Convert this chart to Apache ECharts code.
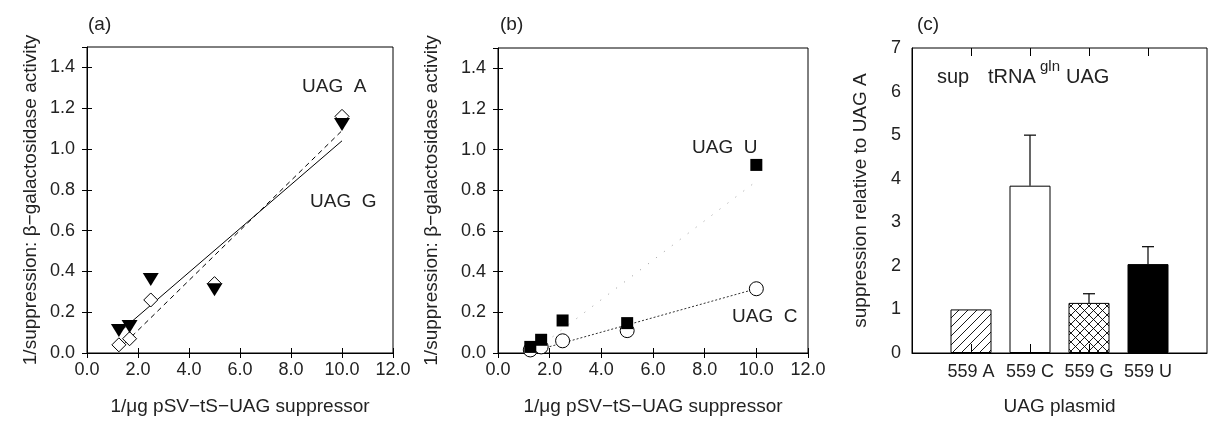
<!DOCTYPE html>
<html>
<head>
<meta charset="utf-8">
<script src="https://cdn.jsdelivr.net/npm/echarts@6/dist/echarts.min.js"></script>
<style>
  html, body { margin: 0; padding: 0; background: #fff; }
  #myEchart { width: 1210px; height: 421px; }
</style>
</head>
<body>
<div id="myEchart"></div>
<script>
// panel (a): 1/ug suppressor vs 1/suppression
var doseA = [1.25, 1.67, 2.5, 5.0, 10.0];
var uagA = [0.04, 0.07, 0.26, 0.34, 1.16];
var uagG = [0.11, 0.13, 0.36, 0.31, 1.12];
var fitA = [[1.5, 0.05], [10.0, 1.09]];
var fitG = [[1.25, 0.10], [10.0, 1.04]];

// panel (b)
var doseB = [1.25, 1.67, 2.5, 5.0, 10.0];
var uagU = [0.03, 0.065, 0.16, 0.147, 0.925];
var uagC = [0.015, 0.03, 0.06, 0.11, 0.316];
var fitU = [[1.5, 0.02], [9.85, 0.83]];
var fitC = [[1.4, 0.01], [10.0, 0.316]];

// panel (c): bars
var plasmids = ['', '559 A', '559 C', '559 G', '559 U', ''];
var relSupp = [null, 1.0, 3.84, 1.15, 2.04, null];
var relErr = [null, null, 5.0, 1.36, 2.44, null];

var FONT = 'Liberation Sans';
var INK = '#222';

function pairs(xs, ys) {
    var out = [];
    for (var i = 0; i < xs.length; i++) out.push([xs[i], ys[i]]);
    return out;
}

function hatch(size, cross) {
    var c = document.createElement('canvas');
    c.width = size;
    c.height = size;
    var g = c.getContext('2d');
    g.strokeStyle = '#000';
    g.lineWidth = 0.9;
    g.beginPath();
    g.moveTo(-1, size + 1); g.lineTo(size + 1, -1);
    if (cross) {
        g.moveTo(-1, -1); g.lineTo(size + 1, size + 1);
    }
    g.stroke();
    return { image: c, repeat: 'repeat' };
}

var fills = {
    '559 A': hatch(9, false),
    '559 C': 'rgba(0,0,0,0)',
    '559 G': hatch(9, true),
    '559 U': '#000'
};

var barData = [];
var errData = [];
for (var i = 0; i < plasmids.length; i++) {
    barData.push({
        value: relSupp[i],
        itemStyle: { color: fills[plasmids[i]] || 'rgba(0,0,0,0)', borderColor: '#000', borderWidth: 1 }
    });
    if (relErr[i] != null) errData.push([i, relSupp[i], relErr[i]]);
}

var tickLabel = { color: INK, fontFamily: FONT, fontSize: 18 };
var titleText = { color: INK, fontFamily: FONT, fontSize: 19 };
var fix1 = function(v) { return v.toFixed(1); };

function scatterAxes(xi, nameGapY) {
    return {
        x: [{
            gridIndex: xi, type: 'value', min: 0, max: 12, interval: 2,
            name: '1/\u03bcg pSV\u2212tS\u2212UAG suppressor', nameLocation: 'middle', nameGap: 44,
            nameTextStyle: titleText,
            axisLine: { show: true, lineStyle: { color: '#000', width: 1 } },
            axisTick: { inside: true, length: 5, lineStyle: { color: '#000' } },
            axisLabel: Object.assign({ margin: 8, formatter: fix1 }, tickLabel),
            splitLine: { show: false }
        }, {
            gridIndex: xi, type: 'value', position: 'top', min: 0, max: 12, interval: 2,
            axisLine: { show: false },
            axisTick: { inside: true, length: 5, lineStyle: { color: '#000' } },
            axisLabel: { show: false },
            splitLine: { show: false }
        }],
        y: [{
            gridIndex: xi, type: 'value', min: 0, max: 1.5, interval: 0.2,
            name: '1/suppression: \u03b2\u2212galactosidase activity', nameLocation: 'middle', nameGap: nameGapY,
            nameTextStyle: titleText,
            axisLine: { show: true, lineStyle: { color: '#000', width: 1 } },
            axisTick: { inside: true, length: 5, lineStyle: { color: '#000' } },
            axisLabel: Object.assign({ margin: 12, formatter: fix1, showMaxLabel: false }, tickLabel),
            splitLine: { show: false }
        }, {
            gridIndex: xi, type: 'value', position: 'right', min: 0, max: 1.5, interval: 0.2,
            axisLine: { show: false },
            axisTick: { inside: true, length: 5, lineStyle: { color: '#000' } },
            axisLabel: { show: false },
            splitLine: { show: false }
        }]
    };
}

var axA = scatterAxes(0, 47);
var axB = scatterAxes(1, 57);

var myChart = echarts.init(document.getElementById('myEchart'), null, { renderer: 'canvas' });

myChart.setOption({
    animation: false,
    backgroundColor: '#fff',
    grid: [
        { left: 87, top: 47, width: 306, height: 308, show: true, borderColor: '#000', borderWidth: 1 },
        { left: 498, top: 48, width: 310, height: 306, show: true, borderColor: '#000', borderWidth: 1 },
        { left: 912, top: 48, width: 308, height: 308, show: true, borderColor: '#000', borderWidth: 1 }
    ],
    xAxis: axA.x.concat(axB.x).concat([{
        gridIndex: 2, type: 'category', data: plasmids, boundaryGap: false, z: 5,
        name: 'UAG plasmid', nameLocation: 'middle', nameGap: 44, nameTextStyle: titleText,
        axisLine: { show: true, lineStyle: { color: '#000', width: 1 } },
        axisTick: { inside: true, length: 9, lineStyle: { color: '#000' },
            interval: function(i) { return i >= 1 && i <= 4; } },
        axisLabel: Object.assign({ margin: 10, interval: 0 }, tickLabel)
    }, {
        gridIndex: 2, type: 'category', data: plasmids, boundaryGap: false, position: 'top',
        axisLine: { show: false },
        axisTick: { inside: true, length: 8, lineStyle: { color: '#000' },
            interval: function(i) { return i >= 1 && i <= 4; } },
        axisLabel: { show: false }
    }]),
    yAxis: axA.y.concat(axB.y).concat([{
        gridIndex: 2, type: 'value', min: 0, max: 7, interval: 1,
        name: 'suppression relative to UAG A', nameLocation: 'middle', nameGap: 42, nameTextStyle: titleText,
        axisLine: { show: true, lineStyle: { color: '#000', width: 1 } },
        axisTick: { show: false },
        axisLabel: Object.assign({ margin: 11 }, tickLabel),
        splitLine: { show: false }
    }]),
    series: [
        // (a)
        { type: 'line', xAxisIndex: 0, yAxisIndex: 0, data: fitG, symbol: 'none', z: 1,
          lineStyle: { color: '#000', width: 1 } },
        { type: 'line', xAxisIndex: 0, yAxisIndex: 0, data: fitA, symbol: 'none', z: 1,
          lineStyle: { color: '#000', width: 1, type: [5, 4] } },
        { type: 'scatter', xAxisIndex: 0, yAxisIndex: 0, data: pairs(doseA, uagA), z: 2,
          symbol: 'diamond', symbolSize: [14, 14],
          itemStyle: { color: '#fff', borderColor: '#000', borderWidth: 1, opacity: 1 } },
        { type: 'scatter', xAxisIndex: 0, yAxisIndex: 0, data: pairs(doseA, uagG), z: 3,
          symbol: 'triangle', symbolRotate: 180, symbolSize: [16, 13],
          itemStyle: { color: '#000', opacity: 1 } },
        // (b)
        { type: 'line', xAxisIndex: 2, yAxisIndex: 2, data: fitU, symbol: 'none', z: 1,
          lineStyle: { color: '#999', width: 1, type: [1, 9] } },
        { type: 'line', xAxisIndex: 2, yAxisIndex: 2, data: fitC, symbol: 'none', z: 1,
          lineStyle: { color: '#333', width: 1, type: [2, 2] } },
        { type: 'scatter', xAxisIndex: 2, yAxisIndex: 2, data: pairs(doseB, uagC), z: 2,
          symbol: 'circle', symbolSize: 14,
          itemStyle: { color: '#fff', borderColor: '#000', borderWidth: 1, opacity: 1 } },
        { type: 'scatter', xAxisIndex: 2, yAxisIndex: 2, data: pairs(doseB, uagU), z: 3,
          symbol: 'rect', symbolSize: 12,
          itemStyle: { color: '#000', opacity: 1 } },
        // (c)
        { type: 'bar', xAxisIndex: 4, yAxisIndex: 4, data: barData, barWidth: 41, z: 2 },
        { type: 'custom', xAxisIndex: 4, yAxisIndex: 4, data: errData, z: 3,
          renderItem: function(params, api) {
              var lo = api.coord([api.value(0), api.value(1)]);
              var hi = api.coord([api.value(0), api.value(2)]);
              return { type: 'group', children: [
                  { type: 'line', shape: { x1: lo[0], y1: lo[1], x2: hi[0], y2: hi[1] },
                    style: { stroke: '#000', lineWidth: 1.2 } },
                  { type: 'line', shape: { x1: hi[0] - 6, y1: hi[1], x2: hi[0] + 6, y2: hi[1] },
                    style: { stroke: '#000', lineWidth: 1.2 } }
              ] };
          } }
    ],
    graphic: [
        { type: 'text', left: 88, top: 15, style: { text: '(a)', fill: INK, font: '19px ' + FONT } },
        { type: 'text', left: 500, top: 15, style: { text: '(b)', fill: INK, font: '19px ' + FONT } },
        { type: 'text', left: 917, top: 15, style: { text: '(c)', fill: INK, font: '19px ' + FONT } },
        { type: 'text', left: 302, top: 77, style: { text: 'UAG  A', fill: INK, font: '19px ' + FONT } },
        { type: 'text', left: 310, top: 192, style: { text: 'UAG  G', fill: INK, font: '19px ' + FONT } },
        { type: 'text', left: 692, top: 138, style: { text: 'UAG  U', fill: INK, font: '19px ' + FONT } },
        { type: 'text', left: 732, top: 307, style: { text: 'UAG  C', fill: INK, font: '19px ' + FONT } },
        { type: 'text', left: 937, top: 67, style: { text: 'sup', fill: INK, font: '20px ' + FONT } },
        { type: 'text', left: 988, top: 67, style: { text: 'tRNA', fill: INK, font: '20px ' + FONT } },
        { type: 'text', left: 1040, top: 59, style: { text: 'gln', fill: INK, font: '15px ' + FONT } },
        { type: 'text', left: 1066, top: 67, style: { text: 'UAG', fill: INK, font: '20px ' + FONT } }
    ]
});
</script>
</body>
</html>
